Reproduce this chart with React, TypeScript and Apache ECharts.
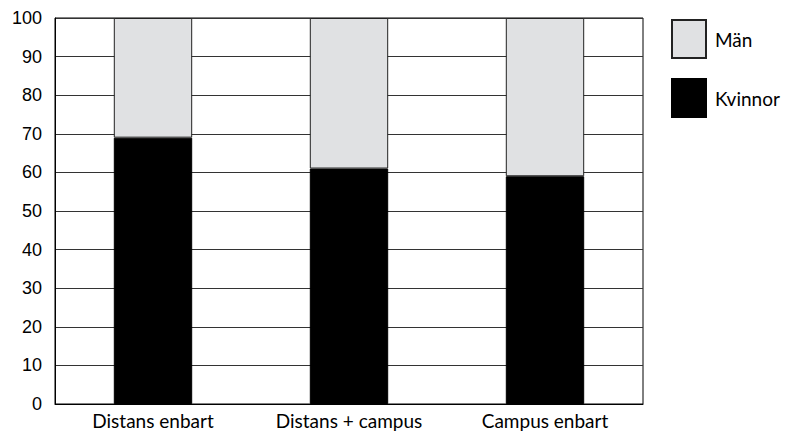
import React, { useEffect, useRef } from "react";
import * as echarts from "echarts";

const categories = ["Distans enbart", "Distans + campus", "Campus enbart"];
const kvinnor = [69, 61, 59];
const man = [31, 39, 41];
const seriesNames = ["Kvinnor", "Män"];

export default function App() {
  const ref = useRef<HTMLDivElement>(null);
  useEffect(() => {
    if (!ref.current) return;
    const chart = echarts.init(ref.current, null, { renderer: "svg" });
    chart.setOption({
      animation: false,
      backgroundColor: "#ffffff",
      grid: { left: 55, right: 147, top: 18, bottom: 33, show: true, borderColor: "#000", borderWidth: 1 },
      legend: {
        orient: "vertical",
        left: 671,
        top: 19,
        padding: 0,
        itemWidth: 34,
        itemHeight: 38,
        itemGap: 19,
        icon: "rect",
        data: [seriesNames[1], seriesNames[0]],
        textStyle: { fontFamily: "Lato", fontSize: 19, color: "#000", padding: [0, 0, 0, 4] },
      },
      xAxis: {
        type: "category",
        data: categories,
        axisTick: { show: false },
        axisLine: { lineStyle: { color: "#000", width: 1 } },
        axisLabel: { fontFamily: "Lato", fontSize: 19, color: "#000", margin: 7 },
      },
      yAxis: {
        type: "value",
        min: 0,
        max: 100,
        interval: 10,
        axisLine: { show: true, lineStyle: { color: "#000" } },
        axisTick: { show: false },
        splitLine: { lineStyle: { color: "#333", width: 1 } },
        axisLabel: { fontFamily: "Liberation Sans", fontSize: 18, color: "#000", margin: 13 },
      },
      series: [
        {
          name: seriesNames[0],
          type: "bar",
          stack: "s",
          data: kvinnor,
          barWidth: "40%",
          itemStyle: { color: "#000", borderColor: "#000", borderWidth: 1 },
        },
        {
          name: seriesNames[1],
          type: "bar",
          stack: "s",
          data: man,
          barWidth: "40%",
          itemStyle: { color: "#e0e1e3", borderColor: "#222", borderWidth: 1 },
        },
      ],
    });
    return () => chart.dispose();
  }, []);
  return <div ref={ref} style={{ width: 790, height: 437, position: "absolute", left: 0, top: 0 }} />;
}
